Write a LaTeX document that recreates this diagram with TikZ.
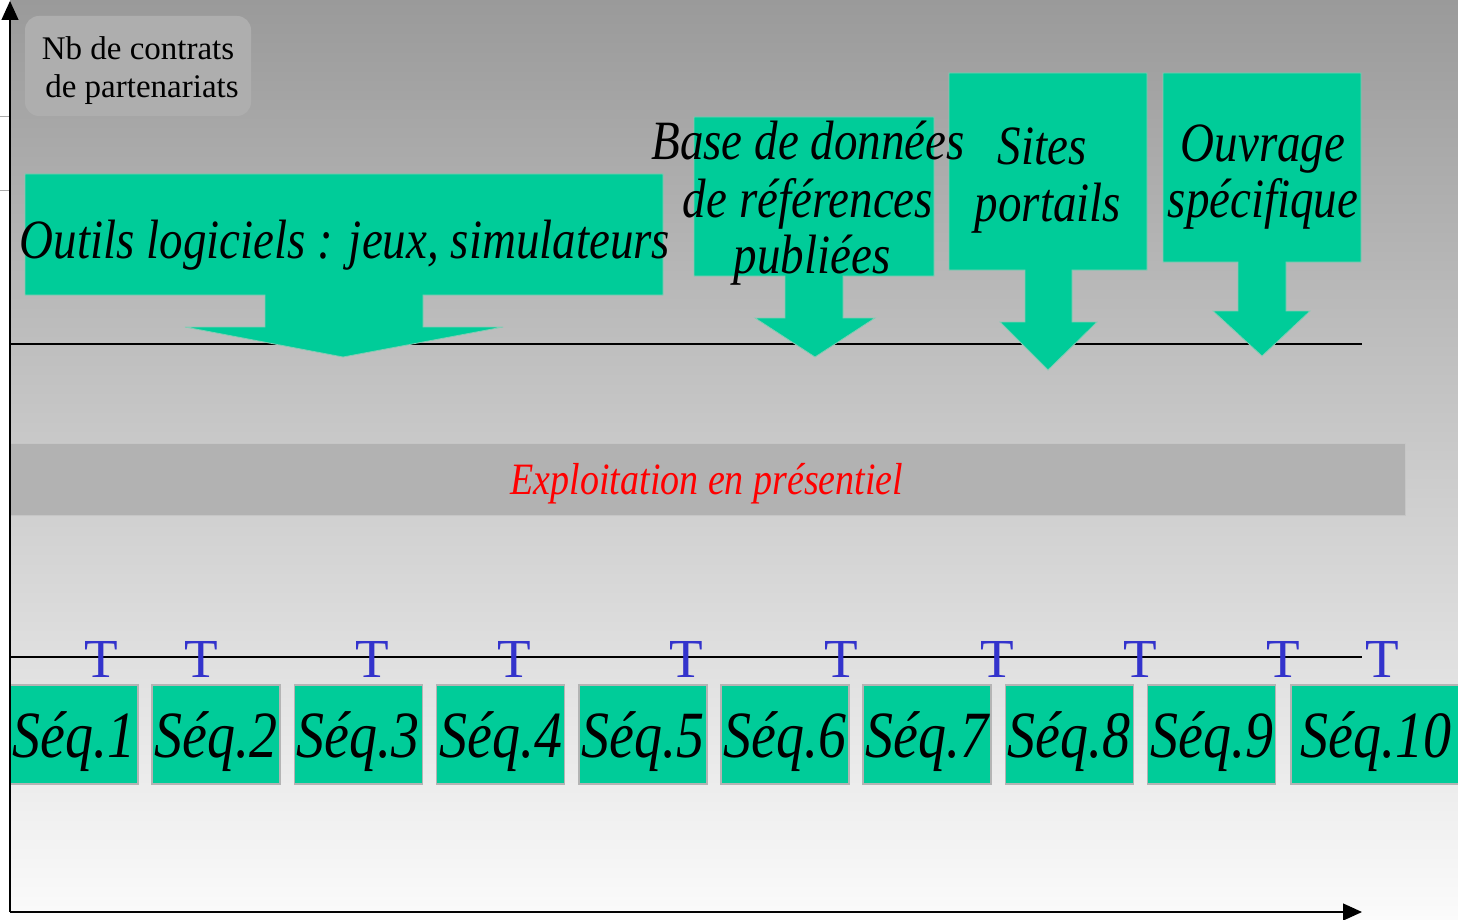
\documentclass[tikz,border=0pt]{standalone}
\usepackage{fontspec}
\setmainfont{Liberation Serif}
\usetikzlibrary{arrows.meta}
\definecolor{grn}{RGB}{0,204,153}
\definecolor{grnedge}{RGB}{130,205,180}
\definecolor{seqedge}{RGB}{180,180,180}
\definecolor{tblue}{RGB}{51,51,204}
\definecolor{band}{RGB}{178,178,178}
\definecolor{bandedge}{RGB}{198,198,198}
\definecolor{lbl}{RGB}{174,174,174}
\definecolor{bgtop}{RGB}{154,154,154}
\definecolor{bgmid}{RGB}{212,212,212}
\definecolor{bgbot}{RGB}{251,251,251}
\definecolor{tick}{RGB}{170,170,170}
\newcommand{\vst}[1]{\scalebox{1}[1.18]{#1}}
\begin{document}
\begin{tikzpicture}[x=1pt,y=-1pt,
  big/.style={font=\fontsize{47}{50}\selectfont\itshape, anchor=base, inner sep=0pt},
  seqlbl/.style={font=\fontsize{56}{60}\selectfont\itshape, anchor=base, inner sep=0pt},
  tmark/.style={font=\fontsize{55}{60}\selectfont, text=tblue, anchor=base, inner sep=0pt},
  lbltxt/.style={font=\fontsize{33}{36}\selectfont, anchor=base, inner sep=0pt},
  seqbox/.style={fill=grn, draw=seqedge, line width=1.5pt},
  arrowshape/.style={fill=grn, draw=grnedge, line width=0.8pt},
  axis/.style={line width=1.2pt, -{Triangle[length=19pt,width=17pt]}},
  refline/.style={line width=1.1pt},
]
\useasboundingbox (0,0) rectangle (1458,920);
\fill[white] (0,0) rectangle (1458,920);
\shade[top color=bgtop, middle color=bgmid, bottom color=bgbot] (10,0) rectangle (1458,920);
% small ticks left
\draw[tick, line width=1pt] (0,117) -- (10,117);
\draw[tick, line width=1pt] (0,191) -- (10,191);
% label box
\fill[lbl, rounded corners=14pt] (25,16) rectangle (251,116);
\node[lbltxt] (nb1) at (138,60) {Nb de contrats};
\node[lbltxt] (nb2) at (142,98) {de partenariats};
% reference lines
\coordinate (l1a) at (10,344); \coordinate (l1b) at (1362,344);
\coordinate (l2a) at (10,657); \coordinate (l2b) at (1362,657);
\draw[refline] (l1a) -- (l1b);
\draw[refline] (l2a) -- (l2b);
% big arrows
\path[arrowshape] (25,174) -- (663,174) -- (663,295) -- (423,295) -- (423,327) -- (503,327) -- (343,357) -- (185,327) -- (265,327) -- (265,295) -- (25,295) -- cycle;
\path[arrowshape] (694,117) -- (934,117) -- (934,276) -- (843,276) -- (843,318) -- (875,318) -- (815,357) -- (755,318) -- (785,318) -- (785,276) -- (694,276) -- cycle;
\path[arrowshape] (949,73) -- (1147,73) -- (1147,270) -- (1072,270) -- (1072,322) -- (1097,322) -- (1048,370) -- (1000,322) -- (1025,322) -- (1025,270) -- (949,270) -- cycle;
\path[arrowshape] (1163,73) -- (1361,73) -- (1361,262) -- (1286,262) -- (1286,311) -- (1310,311) -- (1262,356) -- (1213,311) -- (1238,311) -- (1238,262) -- (1163,262) -- cycle;
% arrow texts
\node[big] (outils) at (345,258) {\vst{Outils logiciels : jeux, simulateurs}};
\node[big] (bdd1) at (808,160) {\vst{Base de données}};
\node[big] (bdd2) at (808,217) {\vst{de références}};
\node[big] (bdd3) at (812,273) {\vst{publiées}};
\node[big] (sites1) at (1042,165) {\vst{Sites}};
\node[big] (sites2) at (1048,222) {\vst{portails}};
\node[big] (ouv1) at (1263,162) {\vst{Ouvrage}};
\node[big] (ouv2) at (1263,218) {\vst{spécifique}};
% band
\filldraw[fill=band, draw=bandedge, line width=1pt] (10,443) rectangle (1405,515);
\node[font=\fontsize{38}{40}\selectfont\itshape, text=red, anchor=base, inner sep=0pt] (expl) at (707,494) {\vst{Exploitation en présentiel}};
% T marks
\foreach \x [count=\i] in {101,201,372,514,686,841,997,1140,1283,1382}
  \node[tmark] (t\i) at (\x,677) {T};
% sequence boxes
\foreach \i in {1,...,9}{
  \pgfmathsetmacro{\xa}{10+(\i-1)*142.2}
  \filldraw[seqbox] (\xa,685) rectangle ++(128,99);
  \node[seqlbl] (s\i) at (\xa+64,757) {\vst{Séq.\i}};
}
\filldraw[seqbox] (1291,685) rectangle (1464,784);
\node[seqlbl] (s10) at (1376,757) {\vst{Séq.10}};
% axes
\coordinate (O) at (10,912);
\coordinate (ytop) at (10,1);
\coordinate (xend) at (1362,912);
\draw[axis] (O) -- (ytop);
\draw[axis] (O) -- (xend);
\end{tikzpicture}
\end{document}
